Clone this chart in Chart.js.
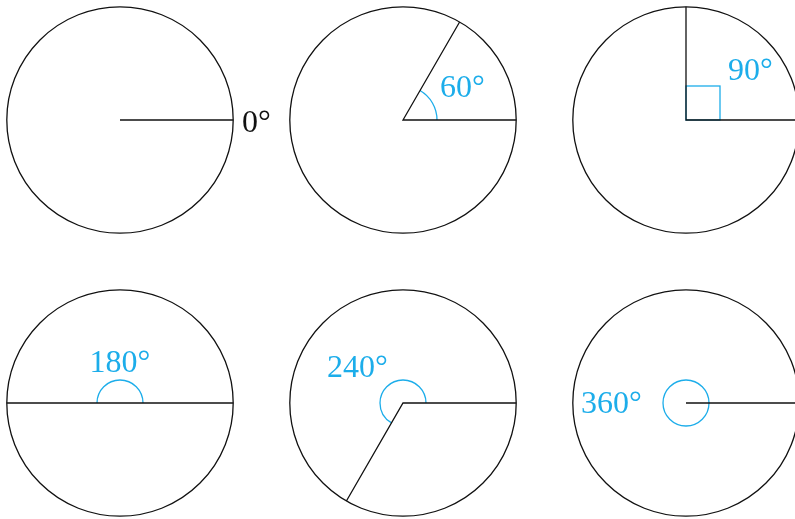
<!DOCTYPE html>
<html>
<head>
<meta charset="utf-8">
<script src="https://cdn.jsdelivr.net/npm/chart.js@4"></script>
<style>
  html, body { margin: 0; padding: 0; background: #fff; overflow: hidden; }
  #angles { display: block; }
</style>
</head>
<body>
<canvas id="angles" width="795" height="519"></canvas>
<script>
// one circle per angle, radius = 1 unit
const angles = [0, 60, 90, 180, 240, 360];
const angleLabels = ['0°', '60°', '90°', '180°', '240°', '360°'];
const centerX = [0, 2.5, 5, 0, 2.5, 5];
const centerY = [0, 0, 0, -2.5, -2.5, -2.5];
const circleRadius = 1;

const BLUE = '#1cadea';
const INK = '#111';

// label placement relative to the circle centre (px), and marker sizes (px)
const labelOffset = [[122, 12], [37, -23], [42, -40], [0, -31], [-76, -26], [-105, 10]];
const labelAlign = ['left', 'left', 'left', 'center', 'left', 'left'];
const markRadius = [0, 34, 34, 23, 23, 23];

function pointAt(i, deg) {
    const a = deg * Math.PI / 180;
    return { x: centerX[i] + circleRadius * Math.cos(a), y: centerY[i] + circleRadius * Math.sin(a) };
}

// rays: from the terminal side, through the centre, to the initial side
const rayData = angles.map(function (deg, i) {
    const pts = [];
    if (deg % 360 !== 0) pts.push(pointAt(i, deg));
    pts.push({ x: centerX[i], y: centerY[i] });
    pts.push(pointAt(i, 0));
    return pts;
});

const anglePlugin = {
    id: 'anglePlugin',
    beforeDatasetsDraw(chart) {
        const ctx = chart.ctx;
        const xs = chart.scales.x, ys = chart.scales.y;
        const unit = xs.getPixelForValue(1) - xs.getPixelForValue(0);
        ctx.save();
        angles.forEach(function (deg, i) {
            const cx = xs.getPixelForValue(centerX[i]);
            const cy = ys.getPixelForValue(centerY[i]);

            ctx.beginPath();
            ctx.strokeStyle = INK;
            ctx.lineWidth = 1.3;
            ctx.arc(cx, cy, circleRadius * unit, 0, Math.PI * 2);
            ctx.stroke();

            ctx.strokeStyle = BLUE;
            ctx.lineWidth = 1.3;
            if (deg === 90) {
                const s = markRadius[i];
                ctx.strokeRect(cx, cy - s, s, s);
            } else if (deg > 0) {
                ctx.beginPath();
                if (deg >= 360) {
                    ctx.arc(cx, cy, markRadius[i], 0, Math.PI * 2);
                } else {
                    ctx.arc(cx, cy, markRadius[i], 0, -deg * Math.PI / 180, true);
                }
                ctx.stroke();
            }

            ctx.fillStyle = deg === 0 ? INK : BLUE;
            ctx.font = '32px "Liberation Serif", serif';
            ctx.textAlign = labelAlign[i];
            ctx.textBaseline = 'alphabetic';
            ctx.fillText(angleLabels[i], cx + labelOffset[i][0], cy + labelOffset[i][1]);
        });
        ctx.restore();
    }
};

const ctx = document.getElementById('angles').getContext('2d');
const pxPerUnit = 113.2;
new Chart(ctx, {
    type: 'scatter',
    data: {
        datasets: rayData.map(function (pts, i) {
            return {
                label: angleLabels[i],
                data: pts,
                showLine: true,
                borderColor: INK,
                borderWidth: 1.3,
                pointRadius: 0,
                fill: false,
                clip: false
            };
        })
    },
    options: {
        responsive: false,
        animation: false,
        layout: { padding: 0 },
        plugins: { legend: { display: false }, tooltip: { enabled: false } },
        events: [],
        scales: {
            x: { display: false, min: -120 / pxPerUnit, max: (795 - 120) / pxPerUnit },
            y: { display: false, min: -(519 - 120) / pxPerUnit, max: 120 / pxPerUnit }
        }
    },
    plugins: [anglePlugin]
});
</script>
</body>
</html>
